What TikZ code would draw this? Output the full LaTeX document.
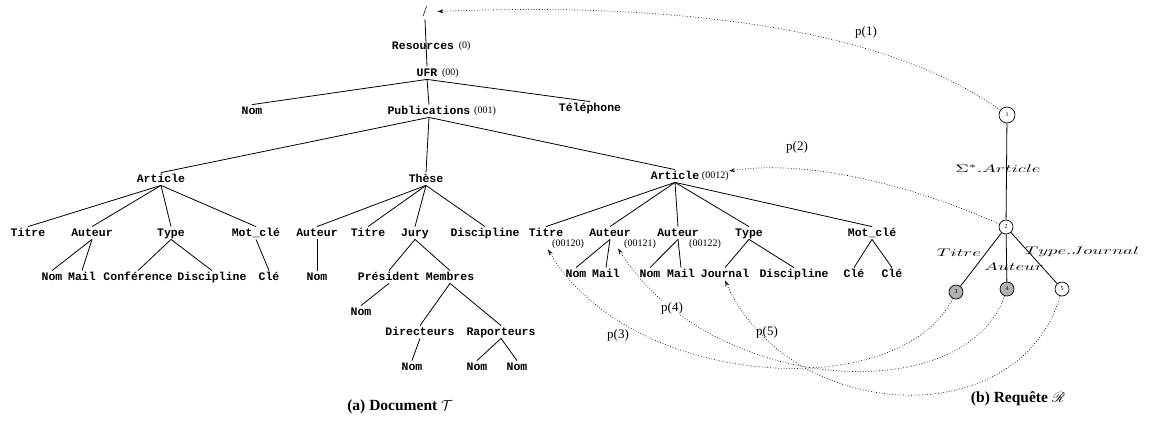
\documentclass[tikz,border=0pt]{standalone}
\usepackage{fontspec}
\setmainfont{Liberation Serif}
\setmonofont{Liberation Mono}
\usepackage{amssymb}
\usepackage{mathrsfs}
\usepackage{graphicx}
\usetikzlibrary{
    arrows.meta,
    calc,
    positioning
}
\tikzset{
    elem/.style={font=\ttfamily\bfseries\fontsize{11.5}{11.5}\selectfont, inner sep=2pt, text height=7pt, text depth=1pt},
    num/.style={font=\fontsize{10}{10}\selectfont, inner sep=0pt},
    qnode/.style={circle, draw, line width=0.7pt, minimum size=14pt, inner sep=0pt, font=\fontsize{6}{6}\selectfont},
    hit/.style={qnode, fill=black!30},
    qlabel/.style={font=\fontsize{11}{11}\selectfont, inner sep=0pt},
    ptr/.style={dotted, line width=0.7pt, -{Stealth[open, length=6pt, width=4pt]}},
    plabel/.style={font=\fontsize{13}{13}\selectfont, inner sep=0pt},
    caption/.style={font=\bfseries\fontsize{15.5}{15.5}\selectfont, inner sep=0pt}
}

\begin{document}
\begin{tikzpicture}[x=1pt, y=-1pt, line width=0.8pt]
                        \useasboundingbox (0, 0) rectangle (1159, 421);
                        \node[font=\fontsize{15}{15}\selectfont, inner sep=2pt] (root) at (425, 12) {/};
                        \node[elem] (res) at (423, 46) {Resources};
                        \node[num, right=2pt of res] {(0)};
                        \node[elem] (ufr) at (427, 73) {UFR};
                        \node[num, right=2pt of ufr] {(00)};
                        \node[elem] (nom1) at (252, 111) {Nom};
                        \node[elem] (pub) at (429, 111) {Publications};
                        \node[num, right=1pt of pub] {(001)};
                        \node[elem] (tel) at (590, 108) {Téléphone};
                        \node[elem] (art1) at (161, 179) {Article};
                        \node[elem] (these) at (426, 179) {Thèse};
                        \node[elem] (art2) at (675, 176) {Article};
                        \node[num, right=0pt of art2] (art2num) {(0012)};
                        \node[elem] (titre1) at (28, 233) {Titre};
                        \node[elem] (aut1) at (92, 233) {Auteur};
                        \node[elem] (type1) at (171, 233) {Type};
                        \node[elem] (mot1) at (256, 233) {Mot\_clé};
                        \node[elem] (nom2) at (52, 277) {Nom};
                        \node[elem] (mail2) at (82, 277) {Mail};
                        \node[elem] (conf) at (138, 277) {Conférence};
                        \node[elem] (disc1) at (212, 277) {Discipline};
                        \node[elem] (cle1) at (269, 277) {Clé};
                        \node[elem] (aut2) at (317, 233) {Auteur};
                        \node[elem] (titre2) at (368, 233) {Titre};
                        \node[elem] (jury) at (415, 233) {Jury};
                        \node[elem] (disc2) at (485, 233) {Discipline};
                        \node[elem] (nom3) at (317, 277) {Nom};
                        \node[elem] (pres) at (389, 277) {Président};
                        \node[elem] (memb) at (450, 277) {Membres};
                        \node[elem] (nom6) at (361, 312) {Nom};
                        \node[elem] (dir) at (420, 332) {Directeurs};
                        \node[elem] (rap) at (501, 332) {Raporteurs};
                        \node[elem] (nom7) at (412, 367) {Nom};
                        \node[elem] (nom8) at (477, 367) {Nom};
                        \node[elem] (nom9) at (517, 367) {Nom};
                        \node[elem] (titre3) at (546, 233) {Titre};
                        \node[elem] (aut3) at (610, 233) {Auteur};
                        \node[elem] (aut4) at (678, 233) {Auteur};
                        \node[elem] (type3) at (749, 233) {Type};
                        \node[elem] (mot3) at (872, 233) {Mot\_clé};
                        \node[num] at (568, 244) {(00120)};
                        \node[num] at (640, 244) {(00121)};
                        \node[num] at (705, 244) {(00122)};
                        \node[elem] (nom4) at (576, 274) {Nom};
                        \node[elem] (mail4) at (606, 274) {Mail};
                        \node[elem] (nom5) at (650, 274) {Nom};
                        \node[elem] (mail5) at (681, 274) {Mail};
                        \node[elem] (journal) at (725, 274) {Journal};
                        \node[elem] (disc3) at (794, 274) {Discipline};
                        \node[elem] (cle3) at (854, 274) {Clé};
                        \node[elem] (cle4) at (892, 274) {Clé};
                        \draw (root.south) -- (ufr.north);
                        \foreach \p/\c in {ufr/nom1, ufr/pub, ufr/tel, pub/art1, pub/these, pub/art2,
                            art1/titre1, art1/aut1, art1/type1, art1/mot1, aut1/nom2, aut1/mail2,
                            type1/conf, type1/disc1, mot1/cle1, these/aut2, these/titre2, these/jury,
                            these/disc2, aut2/nom3, jury/pres, jury/memb, pres/nom6, memb/dir, memb/rap,
                            dir/nom7, rap/nom8, rap/nom9, art2/titre3, art2/aut3, art2/aut4, art2/type3,
                            art2/mot3, aut3/nom4, aut3/mail4, aut4/nom5, aut4/mail5, type3/journal,
                            type3/disc3, mot3/cle3, mot3/cle4}
                            \draw (\p.south) -- (\c.north);
                        \node[qnode, minimum size=16pt] (q1) at (1007, 115) {1};
                        \node[qnode] (q2) at (1006, 227) {2};
                        \node[hit] (q3) at (956, 292) {3};
                        \node[hit] (q4) at (1007, 289) {4};
                        \node[qnode] (q5) at (1062, 289) {5};
                        \draw (q1) -- (q2);
                        \draw (q2) -- (q3);
                        \draw (q2) -- (q4);
                        \draw (q2) -- (q5);
                        \node[qlabel] at (998, 169) {\scalebox{1.7}[1]{$\Sigma^*.Article$}};
                        \node[qlabel] at (959, 253) {\scalebox{1.7}[1]{$Titre$}};
                        \node[qlabel] at (1014, 267) {\scalebox{1.7}[1]{$Auteur$}};
                        \node[qlabel] at (1082, 252) {\scalebox{1.7}[1]{$Type.Journal$}};
                        \draw[ptr, shorten >=8pt] (q1) .. controls (860, 10) and (600, 5) .. (root);
                        \draw[ptr] (q2) .. controls (900, 180) and (800, 160) .. (art2num.north east);
                        \draw[ptr] (q3) .. controls (900, 405) and (630, 390) .. ([shift={(2, 10)}]titre3.south);
                        \draw[ptr] (q4) .. controls (965, 410) and (710, 395) .. ([shift={(8, 9)}]aut3.south);
                        \draw[ptr] (q5) .. controls (1020, 435) and (790, 425) .. (journal.south);
                        \node[plabel] at (866, 32) {p(1)};
                        \node[plabel] at (797, 147) {p(2)};
                        \node[plabel] at (618, 335) {p(3)};
                        \node[plabel, fill=white, inner sep=1pt] at (672, 308) {p(4)};
                        \node[plabel] at (767, 332) {p(5)};
                        \node[caption] at (400, 407) {(a) Document $\mathcal{T}$};
                        \node[caption] at (1018, 399) {(b) Requête $\mathscr{R}$};
                    \end{tikzpicture}
\end{document}
